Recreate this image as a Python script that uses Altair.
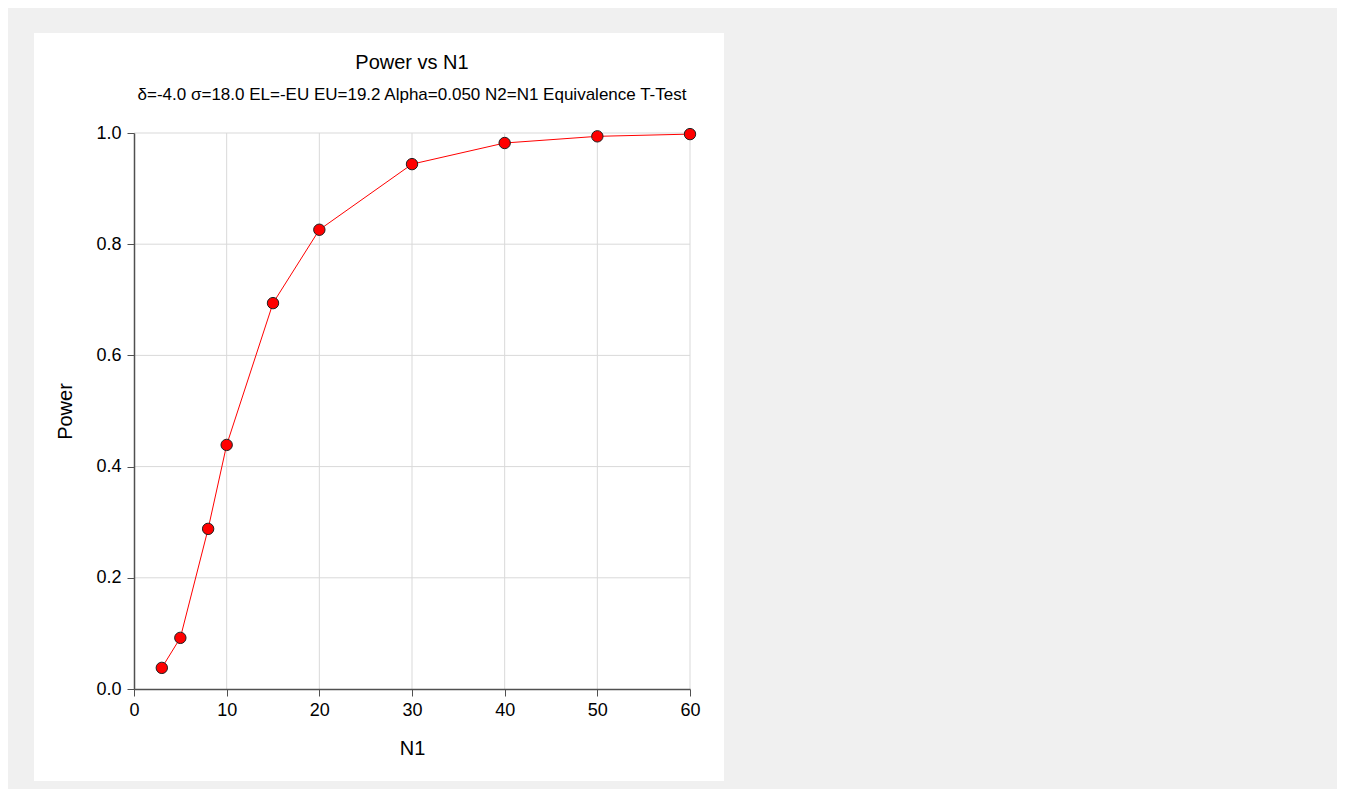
import altair as alt
import pandas as pd

n1 = [3, 5, 8, 10, 15, 20, 30, 40, 50, 60]
power = [0.038, 0.092, 0.288, 0.439, 0.694, 0.826, 0.944, 0.982, 0.994, 0.998]
x_ticks = [0, 10, 20, 30, 40, 50, 60]
y_ticks = [0.0, 0.2, 0.4, 0.6, 0.8, 1.0]
title_text = "Power vs N1"
subtitle_text = "δ=-4.0 σ=18.0 EL=-EU EU=19.2 Alpha=0.050 N2=N1 Equivalence T-Test"

df = pd.DataFrame({"N1": n1, "Power": power})
FONT = "Liberation Sans"

xscale = alt.Scale(domain=[0, 60], nice=False)
yscale = alt.Scale(domain=[0, 1], nice=False)

panel = alt.Chart(pd.DataFrame({"a": [0]})).mark_rect(
    color="white", clip=False
).encode(
    x=alt.value(-100), x2=alt.value(590), y=alt.value(-100), y2=alt.value(648)
)

vgrid = alt.Chart(pd.DataFrame({"v": x_ticks[1:]})).mark_rule(
    color="#d9d9d9", strokeWidth=1
).encode(x=alt.X("v:Q", scale=xscale))
hgrid = alt.Chart(pd.DataFrame({"v": y_ticks[1:]})).mark_rule(
    color="#d9d9d9", strokeWidth=1
).encode(y=alt.Y("v:Q", scale=yscale))

axis_common = dict(
    labelFont=FONT, labelFontSize=18, labelColor="#000000", labelFlush=False,
    labelOverlap=False,
    titleFont=FONT, titleFontSize=20, titleFontWeight="normal", titleColor="#000000",
    domainColor="#505050", domainWidth=1.5, tickColor="#505050", tickSize=7,
    grid=False, zindex=1,
)

xs = alt.X("N1:Q", scale=xscale,
           axis=alt.Axis(values=x_ticks, title="N1", format="d",
                         titlePadding=19, labelPadding=5, **axis_common))
ys = alt.Y("Power:Q", scale=yscale,
           axis=alt.Axis(values=y_ticks, format=".1f", title="Power",
                         titlePadding=20, labelPadding=6, **axis_common))

line = alt.Chart(df).mark_line(color="#ff0000", strokeWidth=1).encode(x=xs, y=ys)
pts = alt.Chart(df).mark_point(
    filled=True, fill="#ff0000", stroke="#202020", strokeWidth=1, size=130, opacity=1
).encode(x=xs, y=ys)

title = alt.Chart(pd.DataFrame({"t": [title_text]})).mark_text(
    font=FONT, fontSize=20, color="black", align="center", baseline="middle"
).encode(text="t:N", x=alt.value(278), y=alt.value(-70))
subtitle = alt.Chart(pd.DataFrame({"t": [subtitle_text]})).mark_text(
    font=FONT, fontSize=17, color="black", align="center", baseline="middle"
).encode(text="t:N", x=alt.value(278), y=alt.value(-38))

chart = alt.layer(panel, vgrid, hgrid, line, pts, title, subtitle).properties(
    width=556, height=556,
    autosize=alt.AutoSizeParams(type="none"),
    padding={"left": 126, "top": 125, "right": 647, "bottom": 100},
    background="#f0f0f0",
).configure_view(stroke=None)

chart.save("out.html", embed_options={"renderer": "svg", "actions": False})
